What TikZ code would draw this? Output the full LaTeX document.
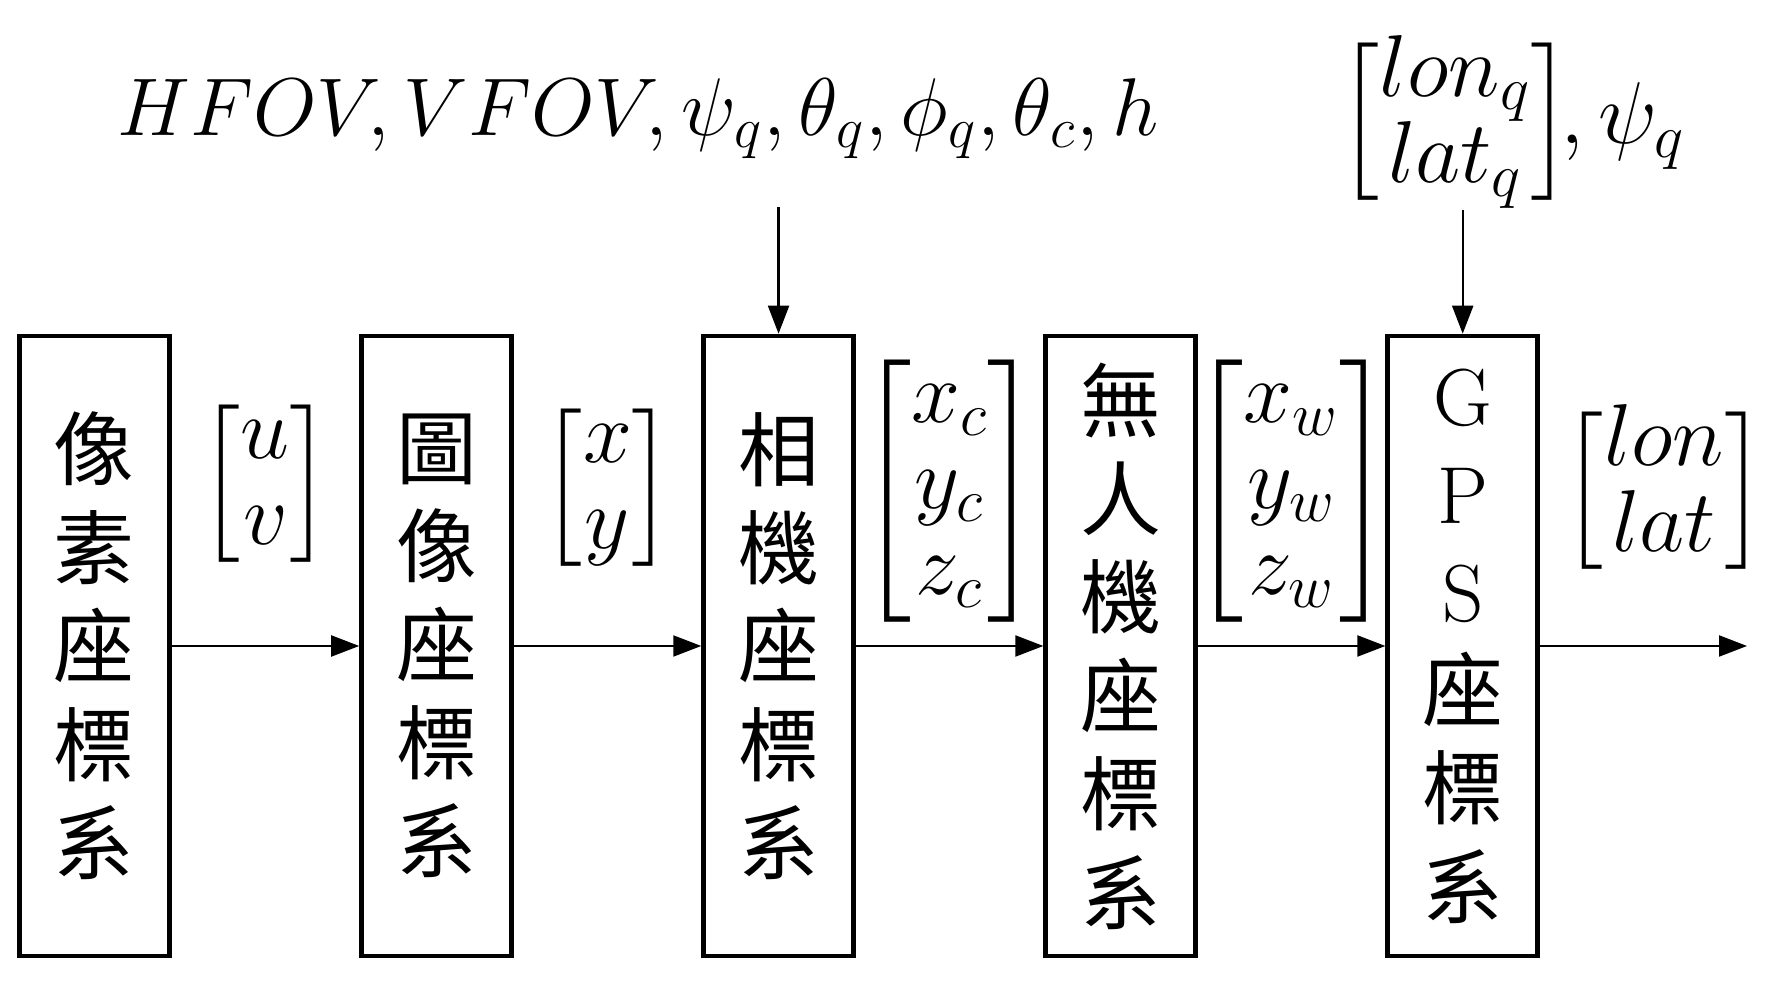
\RequirePackage{fix-cm}
\documentclass[tikz,border=0pt]{standalone}
\usepackage{amsmath}
\usepackage{fontspec}
\usetikzlibrary{positioning,arrows.meta,calc}
\newfontfamily\cjk{Noto Sans CJK TC}

\tikzset{
  frame/.style={rectangle, draw, line width=1.3pt, minimum width=1.5cm, minimum height=6.2cm, inner sep=0pt, align=center, font=\fontsize{23}{28}\selectfont\cjk},
  flow/.style={-{Triangle[length=2.8mm,width=2.1mm]}, line width=0.6pt},
  vec/.style={font=\fontsize{25}{24.5}\selectfont},
}

\begin{document}
\begin{tikzpicture}
    \useasboundingbox (0,0) rectangle (17.73,9.94);

    \node (pix) [frame] at (0.944,3.48) {像\\素\\座\\標\\系};
    \node (img) [frame, right=1.875cm of pix] {圖\\像\\座\\標\\系};
    \node (cam) [frame, right=1.875cm of img] {相\\機\\座\\標\\系};
    \node (uav) [frame, right=1.875cm of cam] {無\\人\\機\\座\\標\\系};
    \node (gps) [frame, right=1.875cm of uav] {{\rmfamily G}\\{\rmfamily P}\\{\rmfamily S}\\座\\標\\系};
    \coordinate (out) at (17.47,3.48);

    % inputs from above
    \node (params) [font=\fontsize{23.3}{28}\selectfont] at (6.38,8.75) {$HFOV,VFOV,\psi_q,\theta_q,\phi_q,\theta_c,h$};
    \node (gpsref) [vec, inner sep=0pt] at (gps.north |- 0,8.72) {$\begin{bmatrix}lon_q\\lat_q\end{bmatrix}\rlap{$\kern-0.3em,\psi_q$}$};
    \coordinate (camin) at (cam.north |- 0,7.87);

    % vectors between frames
    \node (uv) [vec] at ($(pix.east)!.5!(img.west)+(0,1.62)$) {$\begin{bmatrix}u\\v\end{bmatrix}$};
    \node (xy) [vec] at ($(img.east)!.5!(cam.west)+(0,1.58)$) {$\begin{bmatrix}x\\y\end{bmatrix}$};
    \node (xyzc) [vec] at ($(cam.east)!.5!(uav.west)+(0,1.55)$) {$\begin{bmatrix}x_c\\y_c\\z_c\end{bmatrix}$};
    \node (xyzw) [vec] at ($(uav.east)!.5!(gps.west)+(0,1.55)$) {$\begin{bmatrix}x_w\\y_w\\z_w\end{bmatrix}$};
    \node (lonlat) [vec] at ($(gps.east)!.6!(out)+(0,1.55)$) {$\begin{bmatrix}lon\\lat\end{bmatrix}$};

    \draw[flow] (pix) -- (img);
    \draw[flow] (img) -- (cam);
    \draw[flow] (cam) -- (uav);
    \draw[flow] (uav) -- (gps);
    \draw[flow] (gps) -- (out);
    \draw[flow] (camin) -- (cam);
    \draw[flow] (gpsref.south) -- (gps.north);
\end{tikzpicture}
\end{document}
